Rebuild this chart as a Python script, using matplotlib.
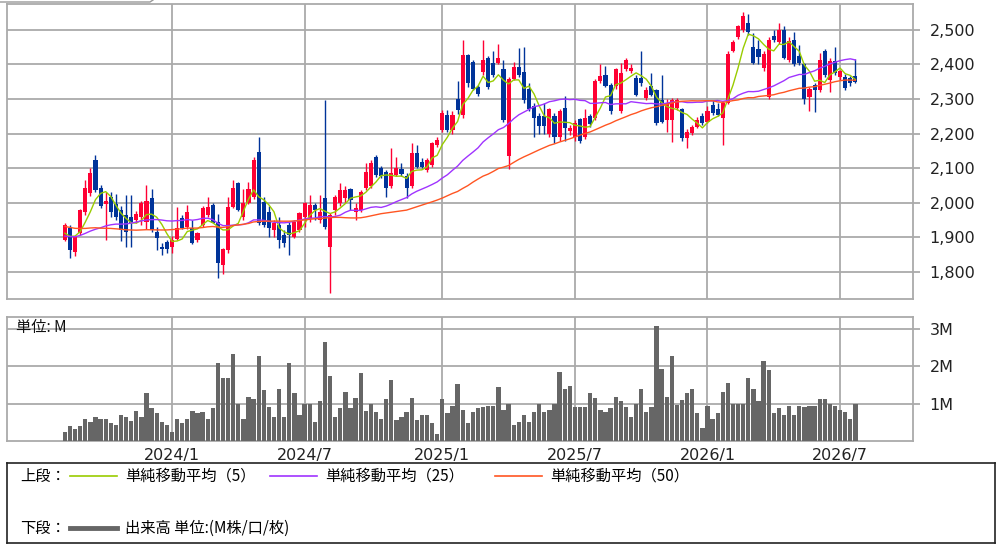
import matplotlib
matplotlib.use('Agg')
import matplotlib.pyplot as plt
from matplotlib.lines import Line2D
from matplotlib.ticker import FuncFormatter
import numpy as np
import pandas as pd

plt.rcParams['font.family'] = ['DejaVu Sans']
jp_font = ['Noto Sans CJK JP', 'DejaVu Sans']

# 週足 (2023/8/7 から)
start_week = '2023-08-07'

opens = [1893, 1927, 1857, 1912, 1973, 2028, 2124, 2043, 1995, 2017,
         1995, 1979, 1965, 1959, 1950, 1960, 1945, 2014, 1915, 1873,
         1887, 1872, 1895, 1956, 1930, 1927, 1892, 1936, 1965, 1994,
         1944, 1820, 1863, 1988, 2057, 1958, 2000, 2017, 2147, 2003,
         1974, 1921, 1936, 1907, 1936, 1902, 1921, 1960, 1955, 1994,
         1950, 2013, 1873, 1979, 1998, 2013, 2039, 1974, 1979, 2042,
         2047, 2133, 2100, 2090, 2047, 2080, 2097, 2076, 2047, 2143,
         2119, 2095, 2109, 2167, 2211, 2254, 2210, 2300, 2253, 2427,
         2408, 2335, 2379, 2418, 2403, 2403, 2388, 2136, 2359, 2393,
         2379, 2330, 2280, 2250, 2250, 2198, 2251, 2190, 2275, 2208,
         2190, 2241, 2190, 2251, 2246, 2352, 2371, 2342, 2338, 2265,
         2386, 2381, 2362, 2362, 2303, 2338, 2327, 2298, 2240, 2240,
         2275, 2270, 2188, 2201, 2220, 2250, 2235, 2284, 2270, 2245,
         2290, 2440, 2480, 2500, 2520, 2450, 2446, 2390, 2305, 2482,
         2466, 2500, 2413, 2470, 2425, 2400, 2306, 2340, 2325, 2440,
         2355, 2410, 2365, 2365, 2360, 2368]
highs = [1940, 1936, 1905, 1982, 2066, 2100, 2138, 2050, 2030, 2030,
         2025, 1990, 2023, 2023, 1975, 2005, 2051, 2040, 1930, 1883,
         1892, 1905, 1988, 1965, 1993, 1950, 1915, 1990, 2017, 2000,
         1966, 1870, 2017, 2066, 2060, 2040, 2060, 2132, 2190, 2018,
         1990, 1950, 1960, 1921, 1945, 1950, 1974, 2003, 2022, 1998,
         2022, 2297, 1970, 2022, 2056, 2047, 2042, 1998, 2037, 2114,
         2124, 2138, 2105, 2095, 2158, 2133, 2114, 2085, 2172, 2167,
         2129, 2129, 2177, 2191, 2268, 2268, 2265, 2352, 2471, 2430,
         2412, 2340, 2471, 2425, 2440, 2460, 2413, 2365, 2408, 2447,
         2450, 2345, 2290, 2260, 2290, 2275, 2261, 2270, 2309, 2225,
         2240, 2245, 2270, 2258, 2358, 2400, 2395, 2345, 2390, 2405,
         2418, 2400, 2371, 2438, 2335, 2376, 2330, 2371, 2300, 2302,
         2302, 2275, 2212, 2226, 2248, 2259, 2279, 2298, 2288, 2295,
         2440, 2470, 2515, 2553, 2545, 2490, 2470, 2440, 2480, 2500,
         2520, 2512, 2480, 2495, 2455, 2405, 2335, 2345, 2432, 2445,
         2420, 2450, 2385, 2372, 2368, 2417]
lows = [1888, 1840, 1845, 1908, 1965, 2020, 2030, 1985, 1892, 1960,
        1950, 1890, 1872, 1872, 1940, 1935, 1925, 1915, 1863, 1850,
        1855, 1856, 1893, 1925, 1925, 1880, 1886, 1930, 1960, 1940,
        1782, 1795, 1855, 1985, 1975, 1950, 1995, 2010, 1935, 1930,
        1902, 1902, 1868, 1873, 1849, 1897, 1916, 1931, 1945, 1950,
        1940, 1925, 1738, 1965, 1990, 1998, 1979, 1950, 1974, 2037,
        2042, 2075, 2071, 2018, 2042, 2076, 2076, 2013, 2042, 2100,
        2100, 2090, 2104, 2162, 2206, 2206, 2200, 2258, 2245, 2335,
        2325, 2310, 2370, 2330, 2365, 2400, 2233, 2098, 2355, 2365,
        2290, 2265, 2190, 2200, 2198, 2190, 2174, 2180, 2179, 2195,
        2179, 2174, 2185, 2220, 2240, 2345, 2335, 2258, 2330, 2260,
        2380, 2375, 2308, 2338, 2298, 2308, 2225, 2230, 2206, 2177,
        2268, 2180, 2157, 2196, 2215, 2225, 2230, 2254, 2250, 2168,
        2285, 2435, 2475, 2495, 2485, 2400, 2402, 2380, 2300, 2465,
        2460, 2415, 2408, 2395, 2398, 2287, 2265, 2262, 2320, 2365,
        2320, 2370, 2355, 2325, 2338, 2345]
closes = [1935, 1863, 1900, 1979, 2043, 2086, 2037, 1990, 2005, 1972,
          1960, 1922, 1915, 1941, 1968, 2000, 2005, 1921, 1897, 1865,
          1865, 1893, 1926, 1927, 1973, 1884, 1912, 1985, 1988, 1942,
          1826, 1865, 1988, 2043, 1980, 2000, 2040, 2124, 1942, 1937,
          1926, 1940, 1892, 1883, 1907, 1945, 1969, 1998, 1994, 1980,
          1974, 1931, 1965, 2018, 2037, 2037, 2008, 1984, 2032, 2090,
          2114, 2080, 2076, 2042, 2085, 2100, 2083, 2042, 2143, 2104,
          2104, 2124, 2172, 2182, 2259, 2211, 2255, 2268, 2427, 2345,
          2330, 2316, 2413, 2335, 2369, 2418, 2238, 2359, 2393, 2369,
          2296, 2270, 2245, 2222, 2222, 2270, 2190, 2265, 2217, 2217,
          2232, 2180, 2246, 2228, 2352, 2366, 2338, 2265, 2386, 2376,
          2414, 2390, 2313, 2345, 2325, 2313, 2232, 2235, 2288, 2298,
          2298, 2187, 2206, 2220, 2240, 2230, 2264, 2260, 2255, 2290,
          2430, 2466, 2510, 2539, 2495, 2405, 2422, 2430, 2470, 2470,
          2500, 2420, 2468, 2400, 2403, 2300, 2330, 2325, 2414, 2370,
          2410, 2375, 2380, 2332, 2345, 2350]

# 出来高 (M株)
volumes = [0.23, 0.40, 0.31, 0.40, 0.60, 0.51, 0.65, 0.58, 0.60, 0.49,
           0.43, 0.69, 0.65, 0.54, 0.81, 0.65, 1.27, 0.87, 0.75, 0.51,
           0.43, 0.24, 0.60, 0.49, 0.60, 0.81, 0.74, 0.78, 0.60, 0.87,
           2.07, 1.69, 1.69, 2.32, 1.00, 0.60, 1.18, 1.11, 2.27, 1.36,
           0.91, 0.65, 1.40, 0.65, 2.07, 1.27, 0.69, 1.00, 1.00, 0.51,
           1.07, 2.64, 1.73, 0.65, 0.87, 1.31, 0.87, 1.15, 1.82, 0.80,
           1.00, 0.78, 0.60, 1.11, 1.64, 0.56, 0.65, 0.77, 1.14, 0.56,
           0.69, 0.69, 0.49, 0.20, 1.11, 0.74, 0.93, 1.52, 0.83, 0.49,
           0.78, 0.87, 0.90, 0.93, 0.93, 1.43, 0.84, 1.00, 0.43, 0.51,
           0.69, 0.51, 0.78, 1.00, 0.78, 0.83, 1.00, 1.85, 1.40, 1.47,
           0.90, 0.90, 0.90, 1.27, 1.15, 0.83, 0.78, 0.87, 1.18, 1.07,
           0.90, 0.65, 1.00, 1.40, 0.78, 0.90, 3.06, 1.93, 1.18, 2.27,
           0.96, 1.09, 1.29, 1.40, 0.74, 0.36, 0.93, 0.58, 0.74, 1.31,
           1.55, 1.00, 1.00, 1.00, 1.69, 1.40, 1.07, 2.14, 1.89, 0.74,
           0.87, 0.69, 0.93, 0.69, 0.93, 0.90, 0.93, 0.93, 1.11, 1.11,
           0.98, 0.93, 0.84, 0.78, 0.58, 0.98]

# 表示範囲より前の終値 (移動平均の計算用, 線の位置から推定)
prior_closes = [2010, 2030, 1995, 2040, 2020, 2005, 2050, 2025, 1990, 2015,
                1985, 2000, 1970, 1990, 1960, 1975, 1940,
                1905, 1880, 1860, 1845, 1870, 1855, 1880, 1890,
                1900, 1915, 1880, 1895, 1920, 1905, 1885, 1870, 1890, 1910,
                1925, 1900, 1880, 1895, 1915, 1930, 1905, 1890, 1900, 1920,
                1910, 1895, 1915, 1905]

ma_windows = [5, 25, 50]
ma_labels = ['単純移動平均（5）', '単純移動平均（25）', '単純移動平均（50）']
ma_colors = ['#99cc00', '#a033ff', '#ff5522']

price_ticks = [1800, 1900, 2000, 2100, 2200, 2300, 2400, 2500]
vol_ticks = [1, 2, 3]
vol_tick_labels = ['1M', '2M', '3M']

UP = '#ff0033'
DOWN = '#003399'
GRID = '#aaaaaa'
VOLC = '#666666'

W, H = 1002, 547
fig = plt.figure(figsize=(W / 100, H / 100), dpi=100)

def px_axes(left, top, right, bottom):
    return fig.add_axes([left / W, (H - bottom) / H, (right - left) / W, (bottom - top) / H])

ax = px_axes(7, 4, 913, 299)
axv = px_axes(7, 317, 913, 441)

n = len(closes)
x = np.arange(n)
o = np.array(opens, float)
c = np.array(closes, float)
hi = np.array(highs, float)
lo = np.array(lows, float)
up = c >= o
cols = np.where(up, UP, DOWN)

dates = pd.date_range(start_week, periods=n, freq='7D')
tick_pos, tick_lab = [], []
for i, d in enumerate(dates):
    if d.month in (1, 7) and (i == 0 or dates[i - 1].month != d.month):
        tick_pos.append(i)
        tick_lab.append(f'{d.year}/{d.month}')

# ローソク足
ax.vlines(x, lo, hi, colors=cols, linewidth=1.0, zorder=3)
body_h = np.maximum(np.abs(c - o), 2)
ax.bar(x, body_h, bottom=np.minimum(o, c), width=0.8, color=cols, linewidth=0, zorder=4)

# 移動平均
all_close = pd.Series(prior_closes + closes, dtype=float)
for w, col in zip(ma_windows, ma_colors):
    ma = all_close.rolling(w).mean().to_numpy()[len(prior_closes):]
    ax.plot(x, ma, color=col, linewidth=1.0, zorder=5)

# 出来高
axv.bar(x, volumes, width=0.84, color=VOLC, linewidth=0, zorder=3)

xl = (-11.35, 166.3)
for a in (ax, axv):
    a.set_xlim(*xl)
    a.set_xticks(tick_pos)
    a.grid(True, color=GRID, linewidth=1.3, zorder=0)
    a.set_axisbelow(True)
    for s in a.spines.values():
        s.set_color(GRID)
        s.set_linewidth(1.3)
    a.yaxis.tick_right()
    a.tick_params(axis='y', length=5, width=1.3, color=GRID, labelsize=11.5,
                  pad=7, labelcolor='#222222')
    a.tick_params(axis='x', length=0)

ax.set_ylim(1721.5, 2575)
ax.set_yticks(price_ticks)
ax.yaxis.set_major_formatter(FuncFormatter(lambda v, p: f'{v:,.0f}'))
ax.set_xticklabels([])

axv.set_ylim(0, 3.31)
axv.set_yticks(vol_ticks)
axv.set_yticklabels(vol_tick_labels)
axv.set_xticklabels(tick_lab, fontsize=11.5, color='#222222')
axv.tick_params(axis='x', pad=5)
axv.text(0.01, 0.915, '単位: M', transform=axv.transAxes, fontsize=11,
         family=jp_font, va='center', ha='left', color='#111111', zorder=6)

# 凡例
leg = px_axes(7, 463, 995, 543)
leg.set_xlim(7, 995)
leg.set_ylim(543, 463)
leg.set_xticks([])
leg.set_yticks([])
for s in leg.spines.values():
    s.set_color('#222222')
    s.set_linewidth(1.2)

row1, row2 = 476, 528
fs = 11
leg.text(20, row1, '上段：', family=jp_font, fontsize=fs, va='center')
for x0, col, lab in zip([70, 270, 495], ma_colors, ma_labels):
    leg.add_line(Line2D([x0, x0 + 47], [row1, row1], color=col, linewidth=1.2))
    leg.text(x0 + 55, row1, lab, family=jp_font, fontsize=fs, va='center')
leg.text(20, row2, '下段：', family=jp_font, fontsize=fs, va='center')
leg.add_line(Line2D([70, 117], [row2, row2], color=VOLC, linewidth=3.5))
leg.text(125, row2, '出来高 単位:(M株/口/枚)', family=jp_font, fontsize=fs, va='center')

# 上端のタブの縁
fig.add_artist(Line2D([0, 150 / W, 153 / W], [1 - 2 / H, 1 - 2 / H, 1],
                      transform=fig.transFigure, color='#999999', linewidth=1))

fig.savefig('out.png', dpi=100)
